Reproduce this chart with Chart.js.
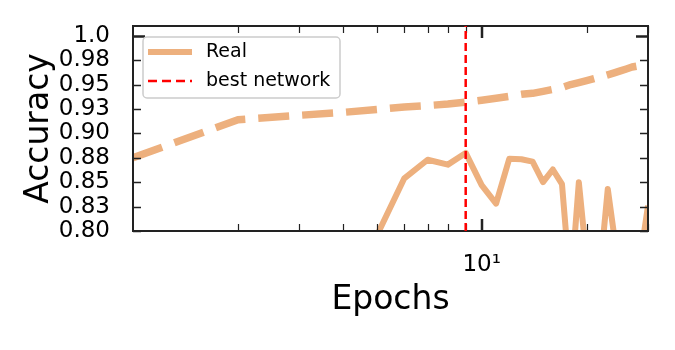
<!DOCTYPE html>
<html>
<head>
<meta charset="utf-8">
<script src="https://cdn.jsdelivr.net/npm/chart.js@4.4.0/dist/chart.umd.min.js"></script>
<style>
  html, body { margin: 0; padding: 0; background: #fff; }
  #wrap { width: 675px; height: 350px; }
</style>
</head>
<body>
<div id="wrap"><canvas id="chart"></canvas></div>
<script>
// epochs and accuracy
const epochs = [1, 2, 3, 4, 5, 6, 7, 8, 9, 10, 11, 12, 13, 14, 15, 16, 17, 18, 19, 20, 21, 22, 23, 24, 25, 26, 27, 28, 29, 30];
const realAcc = [0.62, 0.70, 0.74, 0.77, 0.795, 0.854, 0.873, 0.868, 0.880, 0.847, 0.828, 0.874, 0.8735, 0.871, 0.850, 0.863, 0.848, 0.74, 0.850, 0.77, 0.72, 0.77, 0.843, 0.795, 0.70, 0.68, 0.70, 0.72, 0.79, 0.826];
const trendAcc = [0.875, 0.914, 0.9185, 0.9215, 0.9245, 0.927, 0.9285, 0.930, 0.932, 0.934, 0.936, 0.938, 0.940, 0.941, 0.943, 0.945, 0.947, 0.950, 0.952, 0.954, 0.956, 0.958, 0.960, 0.962, 0.964, 0.966, 0.968, 0.969, 0.971, 0.972];
const bestEpoch = 9;

const legendLabels = ["Real", "best network"];

// axes
const xMin = 1, xMax = 30;
const yMin = 0.8, yMax = 1.01;
const xTickValues = [10];
const xTickLabels = ["10\u00b9"];
const xMinorTicks = [2, 3, 4, 5, 6, 7, 8, 9, 20, 30];
const yTickValues = [0.8, 0.825, 0.85, 0.875, 0.9, 0.925, 0.95, 0.975, 1.0];
const yTickLabels = ["0.80", "0.83", "0.85", "0.88", "0.90", "0.93", "0.95", "0.98", "1.0"];

const ORANGE = "#EDB07E";
const RED = "#FF0000";
const FONT = "'DejaVu Sans', sans-serif";

function drawFrame(chart) {
  const ctx = chart.ctx;
  const a = chart.chartArea;
  const xs = chart.scales.x, ys = chart.scales.y;
  ctx.save();
  ctx.strokeStyle = "#222";
  // y ticks, both sides, pointing in
  yTickValues.forEach((v) => {
    const py = Math.round(ys.getPixelForValue(v)) + 0.5;
    const big = v === 1.0;
    const len = big ? 12 : 8;
    ctx.lineWidth = big ? 2.5 : 1.5;
    ctx.beginPath();
    ctx.moveTo(a.left, py); ctx.lineTo(a.left + len, py);
    ctx.moveTo(a.right, py); ctx.lineTo(a.right - len, py);
    ctx.stroke();
  });
  // x minor ticks
  ctx.lineWidth = 1.2;
  xMinorTicks.forEach((v) => {
    const px = Math.round(xs.getPixelForValue(v)) + 0.5;
    ctx.beginPath();
    ctx.moveTo(px, a.bottom); ctx.lineTo(px, a.bottom - 7);
    ctx.moveTo(px, a.top); ctx.lineTo(px, a.top + 7);
    ctx.stroke();
  });
  // x major ticks
  ctx.lineWidth = 2.5;
  xTickValues.forEach((v) => {
    const px = Math.round(xs.getPixelForValue(v));
    ctx.beginPath();
    ctx.moveTo(px, a.bottom); ctx.lineTo(px, a.bottom - 12);
    ctx.moveTo(px, a.top); ctx.lineTo(px, a.top + 12);
    ctx.stroke();
  });
  // box
  ctx.lineWidth = 2;
  ctx.strokeRect(a.left, a.top, a.right - a.left, a.bottom - a.top);
  ctx.restore();
}

const framePlugin = {
  id: "frame",
  beforeDatasetDraw(chart, args) {
    // ticks sit over the orange curves but under the red marker
    if (args.index === 2) drawFrame(chart);
  },
  afterDraw(chart) {
    const ctx = chart.ctx;
    const a = chart.chartArea;
    const bx = a.left + 10, by = a.top + 11, bw = 197, bh = 61, r = 4;
    ctx.save();
    ctx.beginPath();
    ctx.roundRect(bx, by, bw, bh, r);
    ctx.fillStyle = "rgba(255,255,255,0.8)";
    ctx.fill();
    ctx.strokeStyle = "#cccccc";
    ctx.lineWidth = 1.5;
    ctx.stroke();

    const y1 = by + 15, y2 = by + 44;
    ctx.lineCap = "butt";
    ctx.strokeStyle = ORANGE;
    ctx.lineWidth = 6;
    ctx.beginPath(); ctx.moveTo(bx + 5, y1); ctx.lineTo(bx + 49, y1); ctx.stroke();
    ctx.strokeStyle = RED;
    ctx.lineWidth = 2.5;
    ctx.setLineDash([9, 5]);
    ctx.beginPath(); ctx.moveTo(bx + 5, y2); ctx.lineTo(bx + 49, y2); ctx.stroke();
    ctx.setLineDash([]);

    ctx.fillStyle = "#000";
    ctx.font = "19px " + FONT;
    ctx.textBaseline = "middle";
    ctx.textAlign = "left";
    ctx.fillText(legendLabels[0], bx + 63, y1);
    ctx.fillText(legendLabels[1], bx + 63, y2);
    ctx.restore();
  },
};

const ctx = document.getElementById("chart").getContext("2d");
new Chart(ctx, {
  type: "line",
  data: {
    datasets: [
      {
        label: legendLabels[0],
        data: epochs.map((e, i) => ({ x: e, y: realAcc[i] })),
        borderColor: ORANGE,
        borderWidth: 6,
        borderJoinStyle: "round",
        pointRadius: 0,
        fill: false,
        clip: 0,
        order: 2,
      },
      {
        label: "trend",
        data: epochs.map((e, i) => ({ x: e, y: trendAcc[i] })),
        borderColor: ORANGE,
        borderWidth: 7.5,
        borderDash: [31, 13],
        borderJoinStyle: "round",
        pointRadius: 0,
        fill: false,
        clip: 0,
        order: 1,
      },
      {
        label: legendLabels[1],
        data: [{ x: bestEpoch, y: yMin }, { x: bestEpoch, y: yMax }],
        borderColor: RED,
        borderWidth: 2.5,
        borderDash: [8, 4],
        pointRadius: 0,
        fill: false,
        clip: 0,
        order: 0,
      },
    ],
  },
  options: {
    responsive: true,
    maintainAspectRatio: false,
    animation: false,
    layout: { padding: { left: 0, right: 27, top: 26, bottom: 0 } },
    plugins: {
      legend: { display: false },
      tooltip: { enabled: false },
    },
    scales: {
      x: {
        type: "logarithmic",
        min: xMin,
        max: xMax,
        grid: { display: false },
        border: { display: false },
        afterBuildTicks: (scale) => {
          scale.ticks = xTickValues.map((v) => ({ value: v }));
        },
        afterFit: (scale) => {
          scale.height = 119;
          scale.paddingLeft = 0;
          scale.paddingRight = 0;
        },
        ticks: {
          autoSkip: false,
          maxRotation: 0,
          padding: 12,
          color: "#000",
          font: { family: FONT, size: 23 },
          callback: (v) => {
            const i = xTickValues.indexOf(v);
            return i >= 0 ? xTickLabels[i] : "";
          },
        },
        title: {
          display: true,
          text: "Epochs",
          color: "#000",
          font: { family: FONT, size: 33 },
          padding: { top: 0, bottom: 30 },
        },
      },
      y: {
        type: "linear",
        min: yMin,
        max: yMax,
        grid: { display: false },
        border: { display: false },
        afterBuildTicks: (scale) => {
          scale.ticks = yTickValues.map((v) => ({ value: v }));
        },
        afterFit: (scale) => {
          scale.width = 133;
          scale.paddingTop = 0;
          scale.paddingBottom = 0;
        },
        ticks: {
          autoSkip: false,
          padding: 15,
          color: "#000",
          font: { family: FONT, size: 23 },
          callback: (v) => {
            const i = yTickValues.findIndex((t) => Math.abs(t - v) < 1e-9);
            return i >= 0 ? yTickLabels[i] : "";
          },
        },
        title: {
          display: true,
          text: "Accuracy",
          color: "#000",
          font: { family: FONT, size: 33 },
          padding: { top: 20, bottom: 0 },
        },
      },
    },
  },
  plugins: [framePlugin],
});
</script>
</body>
</html>
